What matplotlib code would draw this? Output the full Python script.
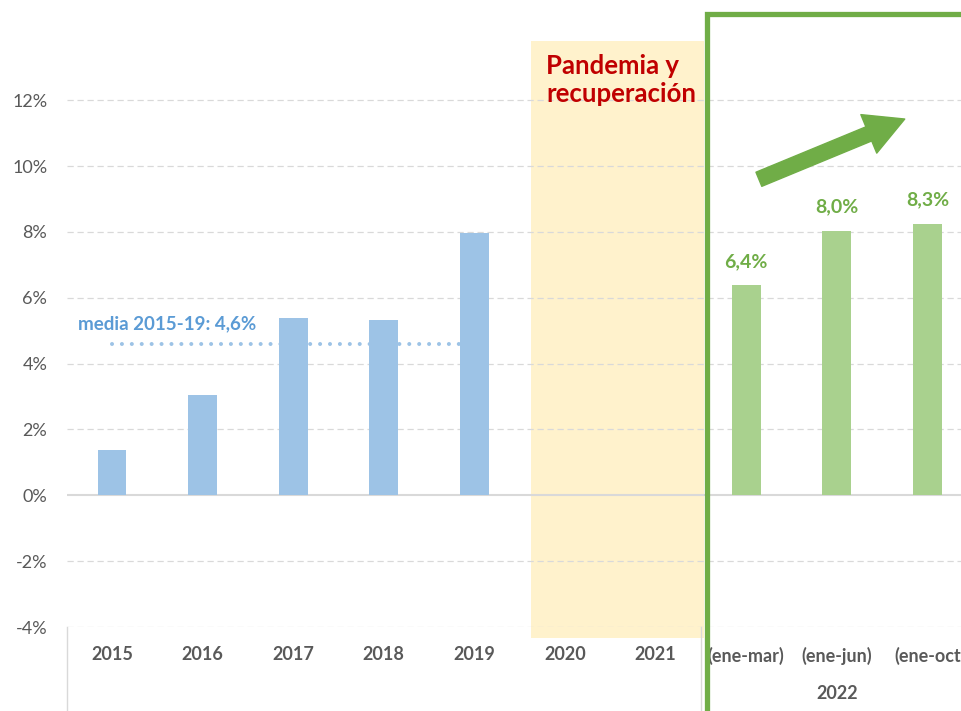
import matplotlib
matplotlib.use("Agg")
import matplotlib.pyplot as plt
from matplotlib.patches import Rectangle
import numpy as np

plt.rcParams['font.family'] = ['Lato', 'DejaVu Sans']

categories = ["2015", "2016", "2017", "2018", "2019", "2020", "2021",
              "(ene-mar)", "(ene-jun)", "(ene-oct"]
values_pre = [1.37, 3.04, 5.38, 5.33, 7.98]
values_2022 = [6.38, 8.03, 8.25]
labels_2022 = ["6,4%", "8,0%", "8,3%"]
media = 4.6
media_label = "media 2015-19: 4,6%"
yticks = [-4, -2, 0, 2, 4, 6, 8, 10, 12]
group_label = "2022"
band_label = "Pandemia y\nrecuperación"

BLUE = "#9DC3E6"
GREEN_BAR = "#A9D18E"
GREEN = "#70AD47"
GRAY = "#595959"

fig = plt.figure(figsize=(9.62, 7.11), dpi=100)
W, H = 962, 711
left = 66.7 / W
bottom = (H - 627) / H
ax = fig.add_axes([left, bottom, 906 / W, 627 / H])
ax.set_xlim(-0.5, 9.5)
ax.set_ylim(-4, 495 / 32.9)

x = np.arange(len(categories))
bw = 0.32

# grid
for t in yticks:
    if t == 0:
        ax.axhline(0, color="#D9D9D9", lw=1.5, zorder=1)
    else:
        ax.axhline(t, color="#D9D9D9", lw=0.9, ls=(0, (5, 3)), zorder=1)

# pandemic band
ax.add_patch(Rectangle((4.625, -4.32), 6.53 - 4.625, 13.8 + 4.32,
                       facecolor="#FFF2CC", edgecolor="none", zorder=0.5, clip_on=False))
ax.text(4.79, 12.62, band_label, color="#C00000", fontsize=18.5, fontweight="bold",
        ha="left", va="center", linespacing=1.2, zorder=3)

# media dotted line
ax.plot([0, 4], [media, media], color=BLUE, lw=2.9, ls=(0, (0.01, 2.45)),
        dash_capstyle="round", zorder=2)
ax.text(-0.37, 5.2, media_label, color="#5B9BD5", fontsize=13.5, fontweight="bold",
        ha="left", va="center", zorder=3)

# bars
ax.bar(x[:5], values_pre, width=bw, color=BLUE, zorder=3)
ax.bar(x[7:], values_2022, width=bw, color=GREEN_BAR, zorder=3)
for xi, v, lab in zip(x[7:], values_2022, labels_2022):
    ax.annotate(lab, (xi, v), xytext=(0, 11), textcoords="offset points",
                ha="center", va="bottom", color=GREEN, fontsize=14, fontweight="bold")

# green frame
ax.add_patch(Rectangle((6.57, -7), 4.0, 14.62 + 7, facecolor="none",
                       edgecolor=GREEN, lw=3.8, zorder=4, clip_on=False))

# arrow
ax.annotate("", xy=(8.75, 11.43), xytext=(7.14, 9.6),
            arrowprops=dict(arrowstyle="simple,head_length=1.4,head_width=1.5,tail_width=0.55",
                            color=GREEN, mutation_scale=20, shrinkA=0, shrinkB=0),
            zorder=5)

# axes styling
for s in ax.spines.values():
    s.set_visible(False)
ax.set_yticks(yticks)
ax.set_yticklabels([f"{t}%" for t in yticks], color=GRAY, fontsize=13)
ax.tick_params(axis="y", length=0, pad=14)
ax.set_xticks(x)
ax.set_xticklabels(categories, color=GRAY, fontsize=13, fontweight="bold")
ax.tick_params(axis="x", length=0, pad=14)

# category axis separators
for xs in (-0.5, 6.5):
    ax.plot([xs, xs], [-4, -7], color="#D9D9D9", lw=1.0, clip_on=False, zorder=1)
ax.text(8.0, -4 - 66 / 32.9, group_label, color=GRAY, fontsize=13, fontweight="bold",
        ha="center", va="center")

fig.savefig("out.png", dpi=100)
